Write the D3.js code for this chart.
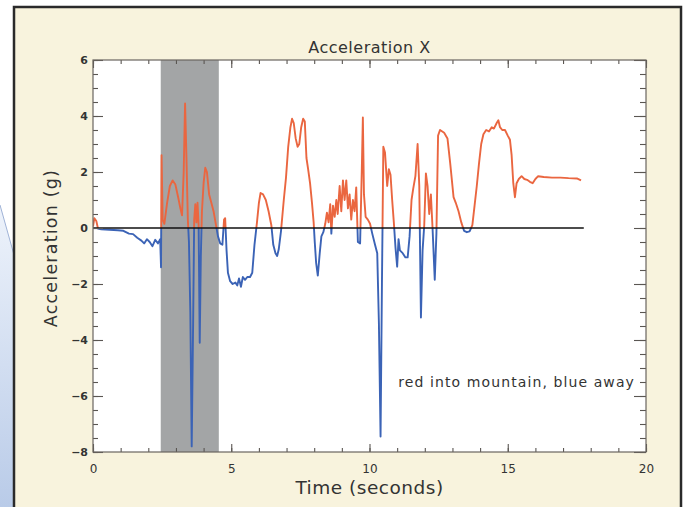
<!DOCTYPE html>
<html>
<head>
 <meta charset="UTF-8">
 <title>Acceleration X</title>
 <script src="https://cdn.jsdelivr.net/npm/d3@7"></script>
 <style>
body {
  margin: 0;
  background: #fff;
}
svg text {
  font-family: "DejaVu Sans", sans-serif;
  fill: #333;
}
.curve {
  fill: none;
  stroke-width: 1.9px;
  stroke-linejoin: round;
}
 </style>
</head>
<body>
<svg id="chart" width="691" height="507"></svg>
<script>
// time (s) and acceleration (g)
var times = [0.00, 0.05, 0.12, 0.18, 0.30, 0.60, 0.90, 1.10, 1.30, 1.45, 1.60, 1.75, 1.85, 1.95, 2.05, 2.15, 2.25, 2.35, 2.43, 2.46,
  2.48, 2.52, 2.58, 2.68, 2.78, 2.88, 2.98, 3.08, 3.16, 3.22, 3.28, 3.33, 3.38, 3.43, 3.47, 3.52, 3.57, 3.62, 3.66, 3.70,
  3.74, 3.78, 3.82, 3.86, 3.90, 3.94, 4.00, 4.06, 4.12, 4.20, 4.28, 4.36, 4.44, 4.52, 4.60, 4.68, 4.74, 4.78, 4.83, 4.88,
  4.96, 5.05, 5.15, 5.22, 5.28, 5.35, 5.42, 5.50, 5.58, 5.68, 5.76, 5.84, 5.93, 6.00, 6.06, 6.15, 6.25, 6.35, 6.45, 6.52,
  6.60, 6.66, 6.72, 6.80, 6.90, 6.98, 7.06, 7.14, 7.20, 7.26, 7.33, 7.40, 7.46, 7.53, 7.60, 7.66, 7.72, 7.78, 7.85, 7.92,
  7.98, 8.02, 8.07, 8.13, 8.20, 8.26, 8.33, 8.40, 8.46, 8.52, 8.58, 8.62, 8.68, 8.74, 8.80, 8.85, 8.92, 8.98, 9.04, 9.10,
  9.16, 9.22, 9.28, 9.34, 9.40, 9.46, 9.52, 9.58, 9.66, 9.72, 9.76, 9.80, 9.86, 9.94, 10.02, 10.10, 10.20, 10.28, 10.34, 10.40,
  10.45, 10.50, 10.56, 10.64, 10.70, 10.76, 10.82, 10.88, 10.94, 11.00, 11.05, 11.10, 11.20, 11.30, 11.38, 11.45, 11.52, 11.58, 11.66, 11.74,
  11.80, 11.86, 11.92, 11.98, 12.04, 12.10, 12.16, 12.22, 12.28, 12.36, 12.42, 12.48, 12.55, 12.70, 12.82, 12.92, 13.04, 13.12, 13.22, 13.32,
  13.42, 13.52, 13.62, 13.72, 13.80, 13.88, 13.96, 14.04, 14.12, 14.22, 14.32, 14.42, 14.50, 14.60, 14.66, 14.72, 14.80, 14.90, 15.00, 15.08,
  15.14, 15.20, 15.26, 15.32, 15.40, 15.50, 15.60, 15.70, 15.80, 15.90, 16.00, 16.10, 16.30, 16.60, 16.90, 17.20, 17.50, 17.65];
var accel = [0.05, 0.35, 0.25, -0.02, -0.05, -0.06, -0.08, -0.10, -0.20, -0.22, -0.35, -0.45, -0.55, -0.40, -0.50, -0.65, -0.42, -0.55, -0.40, -1.40,
  2.60, 0.30, 0.15, 0.90, 1.50, 1.70, 1.55, 1.10, 0.70, 0.45, 2.00, 4.45, 2.50, 0.30, -0.50, -3.00, -7.80, -3.50, 0.30, 0.85,
  0.20, 0.90, 0.10, -4.10, -1.00, 0.60, 1.60, 2.15, 2.00, 1.20, 0.90, 0.60, 0.15, -0.30, -0.55, -0.60, 0.30, 0.35, -0.80, -1.60,
  -1.90, -2.00, -1.95, -2.05, -1.80, -2.10, -1.75, -1.85, -1.75, -1.75, -1.60, -0.60, 0.20, 0.90, 1.25, 1.20, 1.00, 0.60, 0.10, -0.60,
  -0.90, -1.00, -0.75, -0.10, 1.00, 1.80, 2.90, 3.60, 3.90, 3.75, 3.20, 2.90, 3.00, 3.60, 3.90, 3.80, 2.50, 2.10, 1.60, 0.90,
  0.20, -0.50, -1.25, -1.70, -0.90, -0.30, -0.15, 0.15, 0.55, 0.20, 0.85, -0.20, 0.80, 0.40, 1.00, 0.50, 1.50, 0.60, 1.70, 1.00,
  1.70, 0.70, 1.20, 0.30, 1.00, 0.60, 1.45, -0.50, -0.55, 2.00, 3.95, 1.20, 0.40, 0.30, 0.15, -0.20, -0.60, -0.90, -3.40, -7.45,
  -2.00, 2.90, 2.70, 1.50, 2.10, 1.90, 1.00, 0.20, -0.70, -1.38, -0.40, -0.80, -0.90, -1.05, -1.05, -0.30, 1.00, 1.40, 1.85, 3.00,
  1.50, -3.20, -0.80, 0.10, 1.95, 1.50, 0.50, 1.20, 0.00, -1.85, -0.20, 3.30, 3.50, 3.40, 3.20, 2.30, 1.10, 0.90, 0.60, 0.20,
  -0.10, -0.15, -0.12, 0.10, 0.80, 1.50, 2.30, 3.00, 3.35, 3.50, 3.45, 3.60, 3.55, 3.75, 3.85, 3.60, 3.50, 3.50, 3.30, 3.15,
  2.60, 1.60, 1.10, 1.60, 1.75, 1.85, 1.75, 1.72, 1.65, 1.60, 1.75, 1.85, 1.82, 1.80, 1.80, 1.78, 1.77, 1.70];

var shadedBand = [2.45, 4.55];
var xTicks = [0, 5, 10, 15, 20];
var yTicks = [-8, -6, -4, -2, 0, 2, 4, 6];
var title = "Acceleration X",
  xTitle = "Time (seconds)",
  yTitle = "Acceleration (g)",
  note = "red into mountain, blue away";

var svg = d3.select("#chart"),
  pLeft = 93, pRight = 646, pTop = 60, pBottom = 452,
  x = d3.scaleLinear().domain([0, 20]).range([pLeft, pRight]),
  y = d3.scaleLinear().domain([-8, 6]).range([pBottom, pTop]);

var defs = svg.append("defs");

// decoration left of the frame
var grad = defs.append("linearGradient")
  .attr("id", "blueish").attr("x1", 0).attr("y1", 0).attr("x2", 0).attr("y2", 1);
grad.append("stop").attr("offset", 0).attr("stop-color", "#eef3fb");
grad.append("stop").attr("offset", 1).attr("stop-color", "#b9cbe8");
svg.append("path")
  .attr("d", "M0,205 L16,262 L16,507 L0,507 Z")
  .attr("fill", "url(#blueish)");
svg.append("path")
  .attr("d", "M0,205 L16,262")
  .attr("stroke", "#9fb2d6").attr("stroke-width", 1).attr("fill", "none");

// frame
svg.append("rect")
  .attr("x", 14).attr("y", 7).attr("width", 667).attr("height", 510)
  .attr("fill", "#f8f3dd").attr("stroke", "#2a2a2a").attr("stroke-width", 2.5);

// plot area
svg.append("rect")
  .attr("x", pLeft).attr("y", pTop).attr("width", pRight - pLeft).attr("height", pBottom - pTop)
  .attr("fill", "#fff");

svg.append("rect")
  .attr("x", x(shadedBand[0])).attr("y", pTop)
  .attr("width", x(shadedBand[1]) - x(shadedBand[0])).attr("height", pBottom - pTop)
  .attr("fill", "#a3a5a6");

defs.append("clipPath").attr("id", "above").append("rect")
  .attr("x", pLeft).attr("y", pTop).attr("width", pRight - pLeft).attr("height", y(0) - pTop);
defs.append("clipPath").attr("id", "below").append("rect")
  .attr("x", pLeft).attr("y", y(0)).attr("width", pRight - pLeft).attr("height", pBottom - y(0));

var data = times.map(function(t, i){ return [t, accel[i]]; });
var line = d3.line()
  .x(function(d){ return x(d[0]); })
  .y(function(d){ return y(d[1]); });

svg.append("path").attr("class", "curve")
  .attr("clip-path", "url(#above)")
  .attr("stroke", "#ea6640")
  .attr("d", line(data));
svg.append("path").attr("class", "curve")
  .attr("clip-path", "url(#below)")
  .attr("stroke", "#3b63b6")
  .attr("d", line(data));

svg.append("line")
  .attr("x1", x(0)).attr("x2", x(17.75))
  .attr("y1", y(0)).attr("y2", y(0))
  .attr("stroke", "#111").attr("stroke-width", 1.6);

// axes, IDL style: ticks inward on all four sides
function ticks(axis, values, size, labels){
  return axis.tickValues(values).tickSize(-size)
    .tickFormat(labels ? function(d){ return String(d).replace("-", "\u2212"); } : "");
}
var xMinor = d3.range(0, 21, 1), yMinor = d3.range(-8, 6.01, 0.5);

function drawAxis(g){
  g.select(".domain").remove();
  g.selectAll(".tick line").attr("stroke", "#5a5652").attr("stroke-width", 1.1);
}
svg.append("g").attr("transform", "translate(0," + pBottom + ")")
  .call(ticks(d3.axisBottom(x), xMinor, 4, false)).call(drawAxis);
svg.append("g").attr("transform", "translate(0," + pBottom + ")")
  .call(ticks(d3.axisBottom(x), xTicks, 8, true).tickPadding(12)).call(drawAxis)
  .selectAll("text").style("font-size", "12px").attr("fill", "#333");
svg.append("g").attr("transform", "translate(0," + pTop + ")")
  .call(ticks(d3.axisTop(x), xMinor, 4, false)).call(drawAxis);
svg.append("g").attr("transform", "translate(0," + pTop + ")")
  .call(ticks(d3.axisTop(x), xTicks, 8, false)).call(drawAxis);

svg.append("g").attr("transform", "translate(" + pLeft + ",0)")
  .call(ticks(d3.axisLeft(y), yMinor, 5, false)).call(drawAxis);
svg.append("g").attr("transform", "translate(" + pLeft + ",0)")
  .call(ticks(d3.axisLeft(y), yTicks, 10, true).tickPadding(5)).call(drawAxis)
  .selectAll("text").style("font-size", "11px").style("font-weight", "bold").attr("fill", "#3a3a3a");
svg.append("g").attr("transform", "translate(" + pRight + ",0)")
  .call(ticks(d3.axisRight(y), yMinor, 6, false)).call(drawAxis);
svg.append("g").attr("transform", "translate(" + pRight + ",0)")
  .call(ticks(d3.axisRight(y), yTicks, 12, false)).call(drawAxis);

svg.append("rect")
  .attr("x", pLeft).attr("y", pTop).attr("width", pRight - pLeft).attr("height", pBottom - pTop)
  .attr("fill", "none").attr("stroke", "#6a6560").attr("stroke-width", 1.2);

// texts
svg.append("text").attr("x", (pLeft + pRight) / 2).attr("y", 53)
  .attr("text-anchor", "middle").style("font-size", "16px").style("letter-spacing", "0.5px").text(title);
svg.append("text").attr("x", (pLeft + pRight) / 2).attr("y", 494)
  .attr("text-anchor", "middle").style("font-size", "18.5px").style("letter-spacing", "0.5px").text(xTitle);
svg.append("text").attr("transform", "translate(57,248) rotate(-90)")
  .attr("text-anchor", "middle").style("font-size", "17.5px").style("letter-spacing", "1.2px").text(yTitle);
svg.append("text").attr("x", 635).attr("y", 387)
  .attr("text-anchor", "end").style("font-size", "14px").style("letter-spacing", "1.1px").text(note);
</script>
</body>
</html>
